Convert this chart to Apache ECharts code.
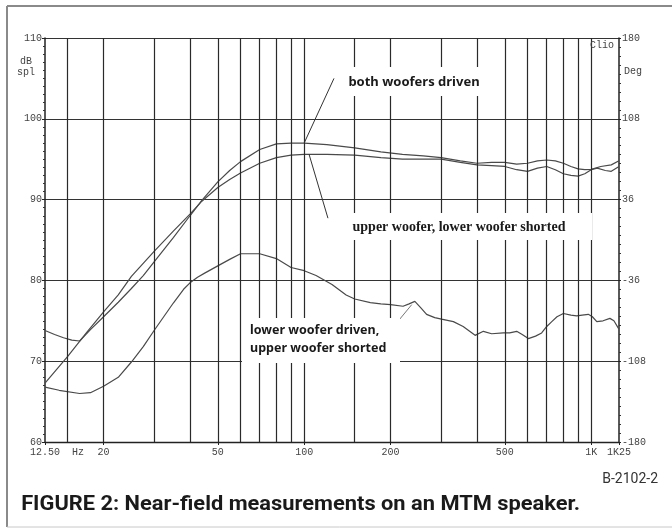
<!DOCTYPE html>
<html>
<head>
<meta charset="utf-8">
<script src="https://cdn.jsdelivr.net/npm/echarts@6/dist/echarts.min.js"></script>
<style>html,body{margin:0;padding:0;background:#fff;}#c{width:672px;height:529px;}</style>
</head>
<body>
<div id="c"></div>
<script>
// ---- data (frequency in Hz, level in dB SPL) ----
const bothFreq = [12.5,13.5,14.5,15.5,16.5,18,20,22.5,25,27.5,30,35,40,44,50,55,60,70,80,90,100,120,150,185,220,260,300,350,400,450,500,550,600,650,700,750,800,850,900,950,1000,1080,1175,1250];
const bothDb   = [73.8,73.3,72.9,72.6,72.5,73.9,75.5,77.3,79.0,80.6,82.3,85.3,88.0,89.9,92.2,93.6,94.7,96.2,96.9,97.0,97.0,96.8,96.4,95.9,95.6,95.4,95.2,94.8,94.5,94.6,94.6,94.4,94.5,94.8,94.9,94.8,94.5,94.1,93.8,93.7,93.75,94.1,94.3,94.8];

const upperFreq = [12.5,15,17.5,20,22.5,25,30,35,40,44,50,55,60,70,80,90,100,120,150,185,220,260,300,350,400,450,500,550,600,650,700,750,800,850,900,950,1000,1050,1120,1175,1250];
const upperDb   = [67.3,70.6,73.6,76.1,78.2,80.5,83.6,86.1,88.2,89.8,91.5,92.5,93.3,94.5,95.2,95.5,95.6,95.6,95.5,95.2,95.0,95.0,95.0,94.6,94.3,94.2,94.1,93.7,93.5,93.9,94.1,93.7,93.2,93.0,92.9,93.2,93.7,93.9,93.6,93.5,94.1];

const lowerFreq = [12.5,14,16.5,18,20,22.5,25,27.5,30,35,38,40,42.5,45,50,55,60,70,80,90,100,110,125,140,150,170,185,200,221,232,243,255,267,285,301,331,358,394,421,450,494,520,550,575,604,640,672,700,729,760,800,850,890,930,977,1010,1046,1100,1162,1200,1243,1250];
const lowerDb   = [66.8,66.4,66.0,66.1,66.9,68.0,69.9,71.8,73.8,77.2,78.9,79.7,80.4,80.9,81.8,82.6,83.3,83.3,82.7,81.6,81.2,80.6,79.5,78.2,77.7,77.25,77.1,77.0,76.8,77.1,77.4,76.6,75.8,75.4,75.2,74.9,74.3,73.2,73.7,73.4,73.5,73.5,73.7,73.3,72.8,73.1,73.5,74.3,74.9,75.5,75.9,75.7,75.6,75.7,75.8,75.5,74.9,75.0,75.3,75.0,74.1,74.0];

const gridFreqs = [15,20,30,40,50,60,70,80,90,100,150,200,300,400,500,600,700,800,900,1000];
const xTickValues = [12.5,20,50,100,200,500,1000,1250];
const xTickLabels = ['12.50  Hz','20','50','100','200','500','1K','1K25'];

function zip(f, d) { return f.map((v, i) => [v, d[i]]); }

const curveStyle = { color: '#4a4a4a', width: 1.2 };
const tickFont = { fontFamily: 'Liberation Mono', fontSize: 10, color: '#444' };

const chart = echarts.init(document.getElementById('c'), null, { renderer: 'canvas' });

// caption width fit
const cv = document.createElement('canvas').getContext('2d');
cv.font = 'bold 21px Roboto';
const capText = 'FIGURE 2: Near-field measurements on an MTM speaker.';
const capScale = 559 / cv.measureText(capText).width;

const option = {
  backgroundColor: '#ffffff',
  animation: false,
  grid: { left: 45, right: 53, top: 38, bottom: 87, containLabel: false, outerBoundsMode: 'none' },
  xAxis: {
    type: 'log', logBase: 10, min: 12.5, max: 1250,
    axisLine: { show: true, onZero: false, lineStyle: { color: '#222', width: 1.3 } },
    axisTick: { show: true, customValues: xTickValues, length: 3, lineStyle: { color: '#222' } },
    axisLabel: {
      show: true, customValues: xTickValues, margin: 5, ...tickFont,
      formatter: function (v) {
        const i = xTickValues.findIndex(t => Math.abs(t - v) < 1e-6 * t);
        const s = i >= 0 ? xTickLabels[i] : '';
        return i === 0 ? '{a|' + s + '}' : s;
      },
      rich: { a: { ...tickFont, padding: [0, 0, 0, 24] } }
    },
    splitLine: { show: false },
    minorTick: { show: false }, minorSplitLine: { show: false }
  },
  yAxis: [
    {
      type: 'value', min: 60, max: 110, interval: 10, position: 'left',
      axisLine: { show: true, onZero: false, lineStyle: { color: '#222', width: 1.5 } },
      axisTick: { show: true, length: 3, lineStyle: { color: '#222' } },
      minorTick: { show: true, splitNumber: 10, length: 2, lineStyle: { color: '#333' } },
      axisLabel: { margin: 3, ...tickFont },
      splitLine: { show: true, lineStyle: { color: '#333', width: 1 } }
    },
    {
      type: 'value', min: -180, max: 180, interval: 72, position: 'right',
      axisLine: { show: true, onZero: false, lineStyle: { color: '#222', width: 1.5 } },
      axisTick: { show: true, length: 2, lineStyle: { color: '#222' } },
      minorTick: { show: true, splitNumber: 9, length: 2, lineStyle: { color: '#333' } },
      axisLabel: { margin: 3, ...tickFont },
      splitLine: { show: false }
    }
  ],
  series: [
    {
      name: 'both woofers driven', type: 'line', data: zip(bothFreq, bothDb),
      showSymbol: false, lineStyle: curveStyle, silent: true, z: 3,
      markLine: {
        silent: true, symbol: 'none', label: { show: false },
        lineStyle: { color: '#2a2a2a', width: 1.2, type: 'solid' },
        data: gridFreqs.map(f => ({ xAxis: f }))
      }
    },
    {
      name: 'upper woofer, lower woofer shorted', type: 'line', data: zip(upperFreq, upperDb),
      showSymbol: false, lineStyle: curveStyle, silent: true, z: 3,
      markLine: {
        silent: true, symbol: 'none', label: { show: false },
        lineStyle: { color: '#333', width: 1, type: 'solid' },
        data: [
          [{ coord: [100, 97.0] }, { coord: [127, 105.0] }],
          [{ coord: [104, 95.6] }, { coord: [121, 87.7] }]
        ]
      }
    },
    {
      name: 'lower woofer driven, upper woofer shorted', type: 'line', data: zip(lowerFreq, lowerDb),
      showSymbol: false, lineStyle: curveStyle, silent: true, z: 3,
      markLine: {
        silent: true, symbol: 'none', label: { show: false },
        lineStyle: { color: '#777', width: 1, type: 'solid' },
        data: [
          [{ coord: [237, 77.0] }, { coord: [204, 74.2] }]
        ]
      }
    }
  ],
  graphic: {
    elements: [
      // outer frame
      { type: 'line', z: 1, shape: { x1: 7, y1: 6, x2: 672, y2: 6 }, style: { stroke: '#8a8a8a', lineWidth: 2 } },
      { type: 'line', z: 1, shape: { x1: 7, y1: 6, x2: 7, y2: 527 }, style: { stroke: '#8a8a8a', lineWidth: 2 } },
      { type: 'line', z: 1, shape: { x1: 7, y1: 527, x2: 672, y2: 527 }, style: { stroke: '#c8c8c8', lineWidth: 1 } },
      // annotation boxes
      { type: 'rect', z: 100, shape: { x: 335, y: 67, width: 157, height: 29 }, style: { fill: '#fff' } },
      { type: 'text', z: 101, x: 414, y: 82, style: { text: 'both woofers driven', font: 'bold 13px "Noto Sans"', fill: '#1a1a1a', textAlign: 'center', textVerticalAlign: 'middle' } },
      { type: 'rect', z: 100, shape: { x: 330, y: 213, width: 262, height: 27 }, style: { fill: '#fff' } },
      { type: 'text', z: 101, x: 459, y: 227, style: { text: 'upper woofer, lower woofer shorted', font: 'bold 14px "Liberation Serif"', fill: '#1a1a1a', textAlign: 'center', textVerticalAlign: 'middle' } },
      { type: 'rect', z: 100, shape: { x: 242, y: 318, width: 158, height: 45 }, style: { fill: '#fff' } },
      { type: 'text', z: 101, x: 250, y: 330, style: { text: 'lower woofer driven,', font: 'bold 12.5px "Noto Sans"', fill: '#1a1a1a', textAlign: 'left', textVerticalAlign: 'middle' } },
      { type: 'text', z: 101, x: 250, y: 348, style: { text: 'upper woofer shorted', font: 'bold 12.5px "Noto Sans"', fill: '#1a1a1a', textAlign: 'left', textVerticalAlign: 'middle' } },
      // axis unit labels
      { type: 'text', z: 101, x: 26, y: 61, style: { text: 'dB', font: '10px "Liberation Mono"', fill: '#444', textAlign: 'center', textVerticalAlign: 'middle' } },
      { type: 'text', z: 101, x: 26, y: 72, style: { text: 'spl', font: '10px "Liberation Mono"', fill: '#444', textAlign: 'center', textVerticalAlign: 'middle' } },
      { type: 'text', z: 101, x: 633, y: 71, style: { text: 'Deg', font: '10px "Liberation Mono"', fill: '#444', textAlign: 'center', textVerticalAlign: 'middle' } },
      { type: 'text', z: 101, x: 614, y: 45, style: { text: 'Clio', font: '10px "Liberation Mono"', fill: '#444', textAlign: 'right', textVerticalAlign: 'middle' } },
      // figure labels
      { type: 'text', z: 101, x: 658, y: 479, style: { text: 'B-2102-2', font: '14px Roboto', fill: '#333', textAlign: 'right', textVerticalAlign: 'middle' } },
      { type: 'text', z: 101, x: 22, y: 505, scaleX: capScale, originX: 22, originY: 505, style: { text: capText, font: 'bold 21px Roboto', fill: '#1a1a1a', textAlign: 'left', textVerticalAlign: 'middle' } }
    ]
  }
};
chart.setOption(option);
</script>
</body>
</html>
